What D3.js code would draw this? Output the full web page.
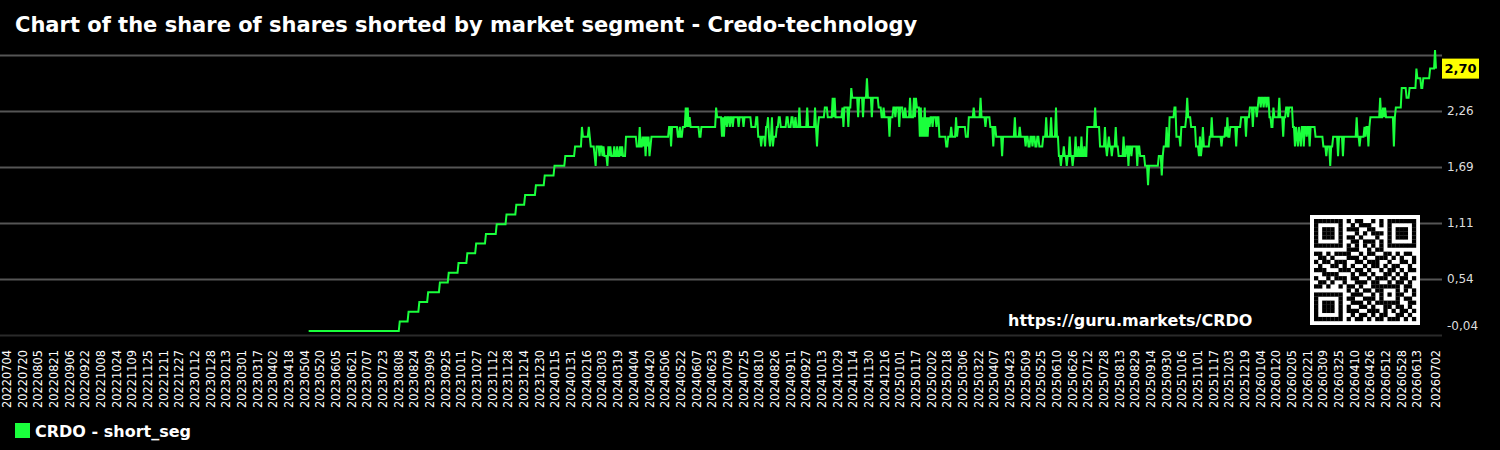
<!DOCTYPE html>
<html>
<head>
<meta charset="utf-8">
<script src="https://cdn.jsdelivr.net/npm/d3@7"></script>
<style>
  body { margin: 0; background: #000; }
  svg { display: block; font-family: "DejaVu Sans", sans-serif; }
</style>
</head>
<body>
<div id="vis"></div>
<script>
const width = 1500
const height = 450

const title = "Chart of the share of shares shorted by market segment - Credo-technology"
const seriesName = "CRDO - short_seg"
const watermark = "https://guru.markets/CRDO"

// y axis ticks (grid) and their printed labels
const yTicks = [-0.04, 0.536, 1.112, 1.688, 2.264, 2.84]
const yLabels = ["-0,04", "0,54", "1,11", "1,69", "2,26", ""]

// x tick labels as printed under the chart
const xLabels = [
  "20220704","20220720","20220805","20220821","20220906","20220922","20221008","20221024","20221109","20221125","20221211","20221227",
  "20230112","20230128","20230213","20230301","20230317","20230402","20230418","20230504","20230520","20230605","20230621","20230707",
  "20230723","20230808","20230824","20230909","20230925","20231011","20231027","20231112","20231128","20231214","20231230",
  "20240115","20240131","20240216","20240303","20240319","20240404","20240420","20240506","20240522","20240607","20240623","20240709",
  "20240725","20240810","20240826","20240911","20240927","20241013","20241029","20241114","20241130","20241216",
  "20250101","20250117","20250202","20250218","20250306","20250322","20250407","20250423","20250509","20250525","20250610","20250626",
  "20250712","20250728","20250813","20250829","20250914","20250930","20251016","20251101","20251117","20251203","20251219",
  "20260104","20260120","20260205","20260221","20260309","20260325","20260410","20260426","20260512","20260528","20260613","20260702"
]

// short_seg series: [date the value starts, value] (value holds until the next entry)
const shortSeg = [
  ["2023-05-08",0.0],["2023-08-09",0.1],["2023-08-18",0.2],["2023-08-29",0.3],["2023-09-07",0.4],["2023-09-19",0.5],
  ["2023-09-28",0.6],["2023-10-08",0.7],["2023-10-17",0.8],["2023-10-26",0.9],["2023-11-05",1.0],["2023-11-16",1.1],
  ["2023-11-26",1.2],["2023-12-06",1.3],["2023-12-15",1.4],["2023-12-26",1.5],["2024-01-04",1.6],["2024-01-14",1.7],
  ["2024-01-25",1.8],["2024-02-04",1.9],["2024-02-11",2.1],["2024-02-12",2.0],["2024-02-18",2.1],["2024-02-19",2.0],
  ["2024-02-20",1.9],["2024-02-24",1.8],["2024-02-25",1.7],["2024-02-26",1.9],["2024-02-29",1.8],["2024-03-01",1.9],
  ["2024-03-03",1.8],["2024-03-04",1.9],["2024-03-05",1.8],["2024-03-08",1.7],["2024-03-09",1.9],["2024-03-10",1.8],
  ["2024-03-11",1.9],["2024-03-12",1.8],["2024-03-15",1.9],["2024-03-16",1.8],["2024-03-18",1.9],["2024-03-19",1.8],
  ["2024-03-21",1.9],["2024-03-22",1.8],["2024-03-23",1.9],["2024-03-24",1.8],["2024-03-27",2.0],["2024-04-07",1.9],
  ["2024-04-10",2.1],["2024-04-11",1.9],["2024-04-13",2.0],["2024-04-14",1.9],["2024-04-15",2.0],["2024-04-16",1.8],
  ["2024-04-17",2.0],["2024-04-18",1.9],["2024-04-19",2.0],["2024-04-20",1.8],["2024-04-21",1.9],["2024-04-22",2.0],
  ["2024-05-10",2.1],["2024-05-12",1.9],["2024-05-13",2.1],["2024-05-19",2.0],["2024-05-21",2.1],["2024-05-22",2.0],
  ["2024-05-24",2.1],["2024-05-27",2.3],["2024-05-28",2.1],["2024-05-29",2.3],["2024-05-30",2.1],["2024-05-31",2.2],
  ["2024-06-01",2.1],["2024-06-10",2.0],["2024-06-12",2.1],["2024-06-27",2.3],["2024-06-28",2.2],["2024-07-03",2.0],
  ["2024-07-04",2.2],["2024-07-05",2.0],["2024-07-06",2.2],["2024-07-08",2.1],["2024-07-09",2.2],["2024-07-11",2.1],
  ["2024-07-12",2.2],["2024-07-14",2.1],["2024-07-15",2.2],["2024-07-20",2.1],["2024-07-21",2.2],["2024-07-25",2.1],
  ["2024-07-26",2.2],["2024-08-02",2.1],["2024-08-07",2.2],["2024-08-09",2.0],["2024-08-12",1.9],["2024-08-13",2.0],
  ["2024-08-16",1.9],["2024-08-17",2.1],["2024-08-19",2.2],["2024-08-20",2.0],["2024-08-21",1.9],["2024-08-22",2.0],
  ["2024-08-23",2.2],["2024-08-24",1.9],["2024-08-25",2.0],["2024-08-28",2.1],["2024-08-30",2.2],["2024-09-01",2.1],
  ["2024-09-07",2.2],["2024-09-09",2.1],["2024-09-12",2.2],["2024-09-14",2.1],["2024-09-16",2.2],["2024-09-17",2.1],
  ["2024-09-20",2.3],["2024-09-21",2.1],["2024-09-28",2.3],["2024-09-29",2.1],["2024-10-06",2.3],["2024-10-07",2.1],
  ["2024-10-08",1.9],["2024-10-09",2.1],["2024-10-10",2.2],["2024-10-16",2.3],["2024-10-19",2.2],["2024-10-24",2.4],
  ["2024-10-25",2.2],["2024-10-26",2.4],["2024-10-27",2.2],["2024-11-03",2.3],["2024-11-04",2.1],["2024-11-05",2.3],
  ["2024-11-09",2.1],["2024-11-10",2.3],["2024-11-12",2.5],["2024-11-13",2.4],["2024-11-19",2.2],["2024-11-20",2.4],
  ["2024-11-24",2.2],["2024-11-25",2.4],["2024-11-28",2.6],["2024-11-29",2.4],["2024-12-03",2.2],["2024-12-04",2.4],
  ["2024-12-10",2.3],["2024-12-13",2.2],["2024-12-15",2.3],["2024-12-16",2.2],["2024-12-21",2.0],["2024-12-22",2.2],
  ["2024-12-25",2.3],["2024-12-27",2.2],["2024-12-28",2.3],["2024-12-31",2.1],["2025-01-01",2.3],["2025-01-04",2.2],
  ["2025-01-06",2.3],["2025-01-07",2.2],["2025-01-11",2.4],["2025-01-12",2.2],["2025-01-15",2.4],["2025-01-16",2.2],
  ["2025-01-17",2.4],["2025-01-18",2.3],["2025-01-21",2.0],["2025-01-22",2.3],["2025-01-23",2.0],["2025-01-24",2.2],
  ["2025-01-25",2.0],["2025-01-26",2.3],["2025-01-27",2.0],["2025-01-28",2.2],["2025-01-29",2.0],["2025-01-30",2.2],
  ["2025-01-31",2.1],["2025-02-01",2.2],["2025-02-03",2.1],["2025-02-04",2.2],["2025-02-07",2.1],["2025-02-08",2.2],
  ["2025-02-10",2.0],["2025-02-17",1.9],["2025-02-19",2.0],["2025-02-22",2.1],["2025-02-23",2.0],["2025-02-27",2.2],
  ["2025-02-28",2.0],["2025-03-01",2.1],["2025-03-09",2.0],["2025-03-12",2.2],["2025-03-17",2.3],["2025-03-18",2.2],
  ["2025-03-24",2.4],["2025-03-25",2.2],["2025-03-29",2.1],["2025-03-30",2.2],["2025-04-03",2.1],["2025-04-06",1.9],
  ["2025-04-07",2.1],["2025-04-09",2.0],["2025-04-15",1.8],["2025-04-16",2.0],["2025-04-28",2.2],["2025-04-29",2.0],
  ["2025-05-03",2.1],["2025-05-04",2.0],["2025-05-09",1.9],["2025-05-10",2.0],["2025-05-12",1.9],["2025-05-14",2.0],
  ["2025-05-16",1.9],["2025-05-17",2.0],["2025-05-19",1.9],["2025-05-21",2.0],["2025-05-23",1.9],["2025-05-27",2.0],
  ["2025-05-30",2.2],["2025-05-31",2.0],["2025-06-04",2.2],["2025-06-05",2.0],["2025-06-09",2.3],["2025-06-10",2.0],
  ["2025-06-12",1.8],["2025-06-14",1.7],["2025-06-15",1.8],["2025-06-17",1.9],["2025-06-18",1.8],["2025-06-20",1.7],
  ["2025-06-21",1.8],["2025-06-23",2.0],["2025-06-24",1.8],["2025-06-26",1.7],["2025-06-27",1.8],["2025-06-29",2.0],
  ["2025-06-30",1.8],["2025-07-02",1.9],["2025-07-03",1.8],["2025-07-05",2.0],["2025-07-06",1.8],["2025-07-08",1.9],
  ["2025-07-09",1.8],["2025-07-11",2.1],["2025-07-19",2.3],["2025-07-20",2.1],["2025-07-24",1.9],["2025-07-29",2.1],
  ["2025-07-30",1.9],["2025-07-31",1.8],["2025-08-01",1.9],["2025-08-02",2.0],["2025-08-03",1.9],["2025-08-05",1.8],
  ["2025-08-06",1.9],["2025-08-09",2.1],["2025-08-10",1.9],["2025-08-12",1.8],["2025-08-17",2.0],["2025-08-18",1.8],
  ["2025-08-20",1.9],["2025-08-22",1.7],["2025-08-23",1.9],["2025-08-25",1.8],["2025-08-26",1.9],["2025-08-31",1.7],
  ["2025-09-01",1.9],["2025-09-03",1.8],["2025-09-08",1.7],["2025-09-11",1.5],["2025-09-12",1.7],["2025-09-22",1.8],
  ["2025-09-25",1.6],["2025-09-26",1.8],["2025-09-27",1.9],["2025-09-30",2.1],["2025-10-01",1.9],["2025-10-03",2.2],
  ["2025-10-08",2.3],["2025-10-10",2.0],["2025-10-14",1.9],["2025-10-15",2.1],["2025-10-20",2.2],["2025-10-21",2.4],
  ["2025-10-22",2.2],["2025-10-25",2.1],["2025-10-30",1.9],["2025-11-02",1.8],["2025-11-03",2.0],["2025-11-04",1.8],
  ["2025-11-05",1.9],["2025-11-06",2.1],["2025-11-07",1.9],["2025-11-13",2.0],["2025-11-15",2.2],["2025-11-16",2.0],
  ["2025-11-25",1.9],["2025-11-26",2.0],["2025-11-29",2.1],["2025-11-30",2.0],["2025-12-01",2.2],["2025-12-02",2.0],
  ["2025-12-04",2.1],["2025-12-10",1.9],["2025-12-11",2.1],["2025-12-15",2.2],["2025-12-20",2.0],["2025-12-21",2.2],
  ["2025-12-24",2.3],["2025-12-27",2.1],["2025-12-28",2.3],["2025-12-31",2.2],["2026-01-01",2.3],["2026-01-02",2.4],
  ["2026-01-04",2.3],["2026-01-05",2.4],["2026-01-07",2.3],["2026-01-08",2.4],["2026-01-10",2.3],["2026-01-11",2.4],
  ["2026-01-13",2.2],["2026-01-15",2.1],["2026-01-17",2.3],["2026-01-18",2.2],["2026-01-23",2.4],["2026-01-24",2.2],
  ["2026-01-27",2.0],["2026-01-28",2.2],["2026-01-30",2.3],["2026-02-01",2.2],["2026-02-02",2.3],["2026-02-06",2.1],
  ["2026-02-08",1.9],["2026-02-09",2.1],["2026-02-10",2.0],["2026-02-11",1.9],["2026-02-12",2.1],["2026-02-13",2.0],
  ["2026-02-14",1.9],["2026-02-15",2.1],["2026-02-17",1.9],["2026-02-18",2.1],["2026-02-20",2.0],["2026-02-21",2.1],
  ["2026-02-23",1.9],["2026-02-24",2.1],["2026-03-01",2.0],["2026-03-09",1.9],["2026-03-12",1.8],["2026-03-13",1.9],
  ["2026-03-16",1.7],["2026-03-17",1.9],["2026-03-19",2.0],["2026-03-24",1.8],["2026-03-25",2.0],["2026-03-29",1.8],
  ["2026-03-30",2.0],["2026-04-12",2.2],["2026-04-13",2.0],["2026-04-15",1.9],["2026-04-16",2.0],["2026-04-20",2.1],
  ["2026-04-21",2.0],["2026-04-22",2.1],["2026-04-24",1.9],["2026-04-25",2.1],["2026-04-26",2.2],["2026-05-06",2.4],
  ["2026-05-07",2.2],["2026-05-09",2.3],["2026-05-10",2.2],["2026-05-11",2.3],["2026-05-12",2.2],["2026-05-20",1.9],
  ["2026-05-21",2.2],["2026-05-22",2.3],["2026-05-28",2.5],["2026-06-02",2.4],["2026-06-05",2.5],["2026-06-12",2.7],
  ["2026-06-13",2.6],["2026-06-17",2.5],["2026-06-19",2.6],["2026-06-26",2.7],["2026-07-01",2.89],["2026-07-02",2.7]
]

// QR code modules (1 = dark)
const qrRows = [
  "1111111010110010101111111",
  "1000001001011100101000001",
  "1011101011100110001011101",
  "1011101000101011101011101",
  "1011101011010001001011101",
  "1000001001101110101000001",
  "1111111010101010101111111",
  "0000000011100101100000000",
  "1101011110010110011010110",
  "0110100011101001110101001",
  "1011011100110111001001101",
  "0100110101001011010110010",
  "1110001110110100101101011",
  "0011110001011010011010100",
  "1001011101100101110101101",
  "0110100100111011001011010",
  "1101001011010011111110110",
  "0000000010101101100010101",
  "1111111001110010101011001",
  "1000001011001110100010110",
  "1011101001110101111110011",
  "1011101010011010011011010",
  "1011101011100111010101101",
  "1000001001011010110011010",
  "1111111010110101101110101"
]

const green = "#1aff3c"
const parseDay = d3.utcParse("%Y-%m-%d")
const parseLabel = d3.utcParse("%Y%m%d")

const svg = d3.select("#vis")
    .append("svg")
    .attr("width", width)
    .attr("height", height)

svg.append("rect")
    .attr("width", width)
    .attr("height", height)
    .attr("fill", "#000")

const xScale = d3.scaleUtc([parseLabel("20220704"), parseLabel("20260702")], [7, 1436])
const yScale = d3.scaleLinear([-0.04, 2.84], [335, 55])
const dayPx = xScale(parseDay("2024-01-02")) - xScale(parseDay("2024-01-01"))

// grid + right labels
const axisR = d3.axisRight(yScale)
    .tickValues(yTicks)
    .tickSizeInner(-1442)
    .tickSizeOuter(0)
    .tickPadding(5)
    .tickFormat((d, i) => yLabels[i])

const yAxis = svg.append("g")
    .attr("transform", "translate(1442, 0)")
    .call(axisR)
yAxis.select(".domain").remove()
yAxis.selectAll(".tick line")
    .attr("stroke", (d, i) => i === 0 ? "#2a2a2a" : "#555")
    .attr("stroke-width", 2)
yAxis.selectAll(".tick text")
    .attr("fill", "#ddd")
    .attr("font-size", 12)
    .attr("font-family", "DejaVu Sans")
    .attr("dy", (d, i) => i === 0 ? "-0.45em" : "0.32em")

// bottom date labels
svg.append("g")
  .selectAll("text")
  .data(xLabels)
  .join("text")
    .attr("transform", d => `translate(${xScale(parseLabel(d))}, 350) rotate(-90)`)
    .attr("text-anchor", "end")
    .attr("dy", "0.35em")
    .attr("fill", "#fff")
    .attr("font-size", 11.4)
    .text(d => d)

// watermark + QR
svg.append("text")
    .attr("x", 1008)
    .attr("y", 326)
    .attr("fill", "#fff")
    .attr("font-weight", "bold")
    .attr("font-size", 16)
    .text(watermark)

const qr = svg.append("g").attr("transform", "translate(1310, 215)")
qr.append("rect").attr("width", 110).attr("height", 110).attr("fill", "#fff")
const mod = 102 / 25
qrRows.forEach((row, r) => {
  row.split("").forEach((c, col) => {
    if (c === "1") {
      qr.append("rect")
        .attr("x", 4 + col * mod)
        .attr("y", 4 + r * mod)
        .attr("width", mod + 0.2)
        .attr("height", mod + 0.2)
        .attr("fill", "#000")
    }
  })
})

// daily series: each value holds until the next entry, change happens over one day
function curveDaily(context) {
  let prev = null
  return {
    areaStart() {}, areaEnd() {},
    lineStart() { prev = null },
    lineEnd() {},
    point(x, y) {
      if (!prev) context.moveTo(x, y)
      else {
        context.lineTo(Math.max(prev[0], x - dayPx), prev[1])
        context.lineTo(x, y)
      }
      prev = [x, y]
    }
  }
}

const line = d3.line()
    .x(d => xScale(parseDay(d[0])))
    .y(d => yScale(d[1]))
    .curve(curveDaily)

svg.append("path")
    .datum(shortSeg)
    .attr("d", line)
    .attr("fill", "none")
    .attr("stroke", green)
    .attr("stroke-width", 2)

// last value tag
const last = shortSeg[shortSeg.length - 1]
const tag = svg.append("g").attr("transform", `translate(1442, ${yScale(last[1])})`)
tag.append("rect")
    .attr("x", 0)
    .attr("y", -10)
    .attr("width", 37)
    .attr("height", 20)
    .attr("fill", "#ffff00")
tag.append("text")
    .attr("x", 18.5)
    .attr("dy", "0.36em")
    .attr("text-anchor", "middle")
    .attr("font-weight", "bold")
    .attr("font-size", 13)
    .attr("fill", "#000")
    .text(d3.format(".2f")(last[1]).replace(".", ","))

// title
svg.append("text")
    .attr("x", 15)
    .attr("y", 32)
    .attr("fill", "#fff")
    .attr("font-weight", "bold")
    .attr("font-size", 21)
    .text(title)

// legend
svg.append("rect")
    .attr("x", 15)
    .attr("y", 423)
    .attr("width", 15)
    .attr("height", 15)
    .attr("fill", green)
svg.append("text")
    .attr("x", 35)
    .attr("y", 437)
    .attr("fill", "#fff")
    .attr("font-weight", "bold")
    .attr("font-size", 16)
    .text(seriesName)
</script>
</body>
</html>
